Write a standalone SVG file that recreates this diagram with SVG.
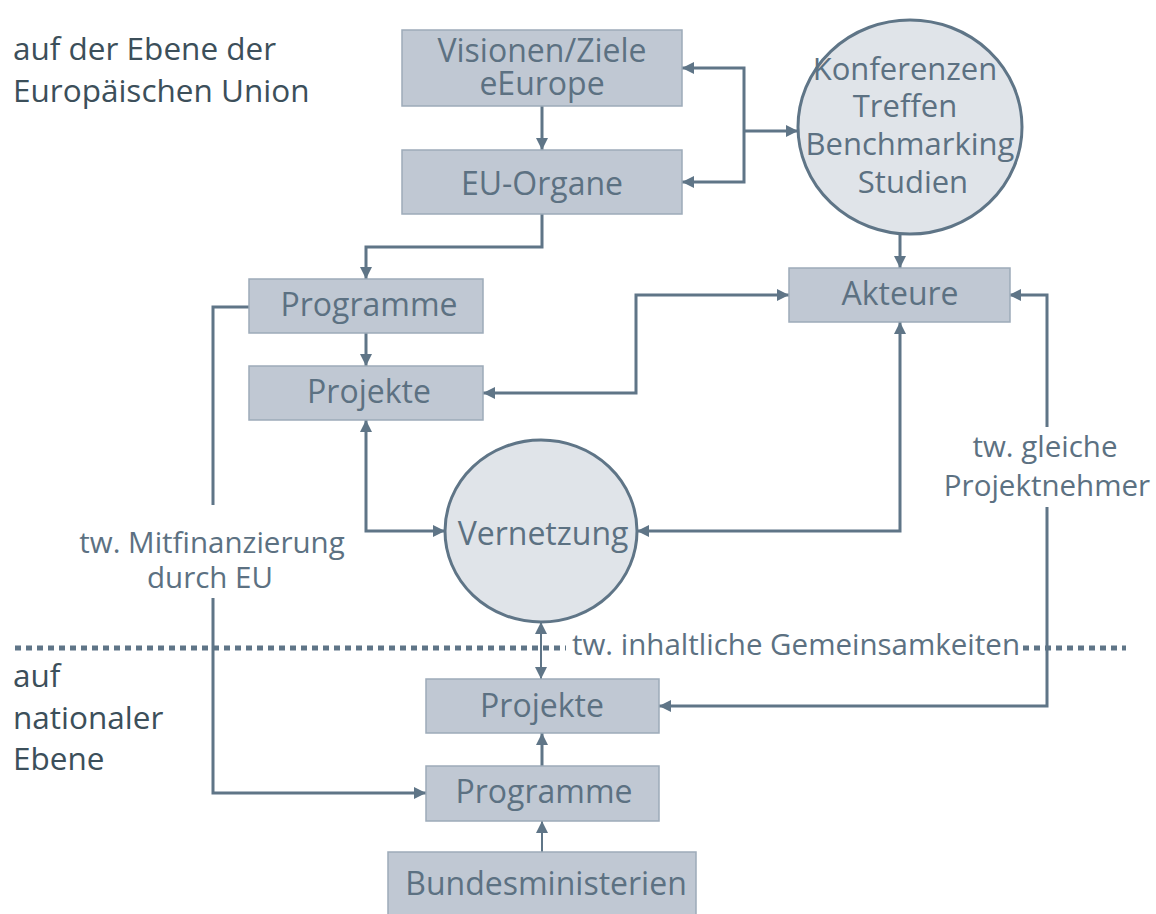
<svg xmlns="http://www.w3.org/2000/svg" width="1156" height="914" viewBox="0 0 1156 914">
<defs>
<marker id="a" viewBox="0 0 12 12" refX="12" refY="6" markerWidth="12" markerHeight="12" markerUnits="userSpaceOnUse" orient="auto-start-reverse"><path d="M0,0 L12,6 L0,12 z" fill="#5f7587"/></marker>
<style>
.box{fill:#c0c8d3;stroke:#9dabb9;stroke-width:1.5}
.circ{fill:#e0e4e9;stroke:#5f7587;stroke-width:3}
.t{font-family:"Open Sans","Noto Sans",sans-serif;font-size:32px;fill:#5c7182;text-anchor:middle}
.k{font-family:"Open Sans","Noto Sans",sans-serif;font-size:31px;fill:#5c7182;text-anchor:middle}
.h{font-family:"Open Sans","Noto Sans",sans-serif;font-size:31.5px;fill:#3c4f5a}
.l{font-family:"Open Sans","Noto Sans",sans-serif;font-size:29.5px;fill:#5c7182;text-anchor:middle}
.c{fill:none;stroke:#5f7587;stroke-width:3}
.c2{fill:none;stroke:#5f7587;stroke-width:2}
.dot{fill:none;stroke:#5f7587;stroke-width:5;stroke-dasharray:6 5}
</style>
</defs>
<rect width="1156" height="914" fill="#fff"/>
<g id="headings">
<text class="h" x="13" y="60">auf der Ebene der</text>
<text class="h" x="13" y="102">Europäischen Union</text>
<text class="h" x="13" y="687">auf</text>
<text class="h" x="13" y="729">nationaler</text>
<text class="h" x="13" y="770">Ebene</text>
</g>
<g id="divider">
<path class="dot" d="M15,648 H566"/>
<path class="dot" d="M1023,648 H1126"/>
<text class="l" x="796" y="655">tw. inhaltliche Gemeinsamkeiten</text>
</g>
<g id="connectors">
<path class="c" d="M542,106 V150" marker-end="url(#a)"/>
<path class="c" d="M682,68 H744 V182 H682" marker-start="url(#a)" marker-end="url(#a)"/>
<path class="c" d="M744,131 H798" marker-end="url(#a)"/>
<path class="c" d="M542,214 V247 H366 V279" marker-end="url(#a)"/>
<path class="c" d="M366,333 V366" marker-end="url(#a)"/>
<path class="c" d="M249,307 H213 V505"/>
<path class="c" d="M213,598 V793 H426" marker-end="url(#a)"/>
<path class="c" d="M483,393 H636 V295 H789" marker-start="url(#a)" marker-end="url(#a)"/>
<path class="c" d="M366,420 V531 H445" marker-start="url(#a)" marker-end="url(#a)"/>
<path class="c" d="M900,322 V531 H637" marker-start="url(#a)" marker-end="url(#a)"/>
<path class="c2" d="M541,622 V679" marker-start="url(#a)" marker-end="url(#a)"/>
<path class="c" d="M1009,295 H1047 V427" marker-start="url(#a)"/>
<path class="c" d="M1047,507 V706 H659" marker-end="url(#a)"/>
<path class="c" d="M542,766 V733" marker-end="url(#a)"/>
<path class="c2" d="M542,852 V821" marker-end="url(#a)"/>
<path class="c" d="M900,233 V268" marker-end="url(#a)"/>
<text class="l" x="212" y="553">tw. Mitfinanzierung</text>
<text class="l" x="210" y="588">durch EU</text>
<text class="l" x="1045" y="457">tw. gleiche</text>
<text class="l" x="1047" y="496">Projektnehmer</text>
</g>
<g id="visionen">
<rect class="box" x="402" y="30" width="280" height="76"/>
<text class="t" x="542" y="62">Visionen/Ziele</text>
<text class="t" x="542" y="95">eEurope</text>
</g>
<g id="eu-organe">
<rect class="box" x="402" y="150" width="280" height="64"/>
<text class="t" x="542" y="195">EU-Organe</text>
</g>
<g id="konferenzen">
<ellipse class="circ" cx="910" cy="127" rx="112" ry="107"/>
<text class="k" x="905" y="80">Konferenzen</text>
<text class="k" x="905" y="117">Treffen</text>
<text class="k" x="910" y="155">Benchmarking</text>
<text class="k" x="913" y="193">Studien</text>
</g>
<g id="programme-eu">
<rect class="box" x="249" y="279" width="234" height="54"/>
<text class="t" x="369" y="316">Programme</text>
</g>
<g id="projekte-eu">
<rect class="box" x="249" y="366" width="234" height="54"/>
<text class="t" x="369" y="403">Projekte</text>
</g>
<g id="akteure">
<rect class="box" x="789" y="268" width="221" height="54"/>
<text class="t" x="900" y="305">Akteure</text>
</g>
<g id="vernetzung">
<ellipse class="circ" cx="541" cy="531" rx="96" ry="91"/>
<text class="t" x="543" y="545">Vernetzung</text>
</g>
<g id="projekte-national">
<rect class="box" x="426" y="679" width="233" height="54"/>
<text class="t" x="542" y="717">Projekte</text>
</g>
<g id="programme-national">
<rect class="box" x="426" y="766" width="233" height="55"/>
<text class="t" x="544" y="803">Programme</text>
</g>
<g id="bundesministerien">
<rect class="box" x="388" y="852" width="308" height="70"/>
<text class="t" x="546" y="895">Bundesministerien</text>
</g>
</svg>
